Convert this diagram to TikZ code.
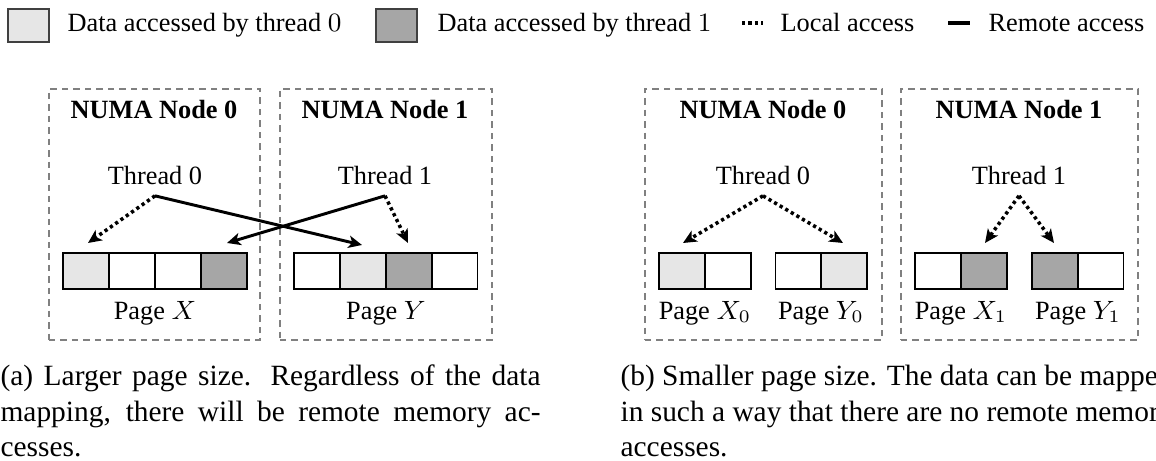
\documentclass[tikz,border=0pt]{standalone}
\usepackage{fontspec}
\setmainfont{Liberation Serif}
\usetikzlibrary{arrows.meta}

\definecolor{litegray}{RGB}{230,230,230}
\definecolor{darkfill}{RGB}{166,166,166}
\definecolor{boxgray}{RGB}{128,128,128}

\begin{document}
\begin{tikzpicture}[
  x=0.34pt, y=-0.34pt,
  every node/.style={font=\fontsize{8.95}{10.7}\selectfont},
  cell/.style={draw, line width=0.5pt, minimum width=46*0.34pt, minimum height=36*0.34pt,
    inner sep=0pt, outer sep=0pt},
  lite/.style={fill=litegray},
  dark/.style={fill=darkfill},
  legbox/.style={draw=black!75, line width=0.5pt, minimum width=41*0.34pt,
    minimum height=33*0.34pt, inner sep=0pt},
  numabox/.style={draw=boxgray, line width=0.7pt, dash pattern=on 2.2pt off 1.7pt,
    minimum height=251*0.34pt, inner sep=0pt},
  title/.style={font=\fontsize{8.95}{10.7}\selectfont\bfseries, anchor=base},
  thread/.style={anchor=base, inner sep=3.4pt},
  lbl/.style={anchor=base, inner sep=0pt},
  legtxt/.style={anchor=base west, inner sep=0pt},
  caption/.style={anchor=base west, inner sep=0pt, font=\fontsize{10}{12}\selectfont},
  tip/.style={-{Stealth[length=4.6pt, width=4.2pt, inset=1.2pt]}},
  localacc/.style={tip, line width=1.2pt, dash pattern=on 1.1pt off 1.1pt},
  remoteacc/.style={tip, line width=1pt},
]
\useasboundingbox (0,0) rectangle (1156,461);
\clip (0,0) rectangle (1156,461);

% ---------- legend ----------
\node[legbox, lite] (lg0) at (28.5,25.5) {};
\node[legtxt] (lt0) at (67,32) {Data accessed by thread $0$};
\node[legbox, dark] (lg1) at (396.5,25.5) {};
\node[legtxt] (lt1) at (437,32) {Data accessed by thread $1$};
\coordinate (ls0) at (742,23);
\coordinate (ls1) at (763,23);
\draw[line width=1.2pt, dash pattern=on 1.1pt off 1.1pt] (ls0) -- (ls1);
\node[legtxt] (lt2) at (780,32) {Local access};
\coordinate (lr0) at (948,23);
\coordinate (lr1) at (970,23);
\draw[line width=1.4pt] (lr0) -- (lr1);
\node[legtxt] (lt3) at (988,32) {Remote access};

% ---------- (a) larger pages ----------
\node[numabox, minimum width=211*0.34pt] (na0) at (154.5,214.5) {};
\node[numabox, minimum width=212*0.34pt] (na1) at (386,214.5) {};
\node[title] (ha0) at (154,119) {NUMA Node 0};
\node[title] (ha1) at (385,119) {NUMA Node 1};
\node[thread] (ta0) at (155,185) {Thread 0};
\node[thread] (ta1) at (385,185) {Thread 1};

% page X
\node[cell, lite] (ax1) at (86,271) {};
\node[cell] (ax2) at (132,271) {};
\node[cell] (ax3) at (178,271) {};
\node[cell, dark] (ax4) at (224,271) {};
% page Y
\node[cell] (ay1) at (317,271) {};
\node[cell, lite] (ay2) at (363,271) {};
\node[cell, dark] (ay3) at (409,271) {};
\node[cell] (ay4) at (454.5,271) {};
\node[lbl] (pax) at (155,320) {Page $X$};
\node[lbl] (pay) at (386,320) {Page $Y$};

\coordinate (ea1) at (88,243);
\coordinate (ea2) at (362,245);
\coordinate (ea3) at (227,243);
\coordinate (ea4) at (408,243);
\draw[localacc] (ta0.south) -- (ea1);
\draw[remoteacc] (ta0.south) -- (ea2);
\draw[remoteacc] (ta1.south) -- (ea3);
\draw[localacc] (ta1.south) -- (ea4);

% ---------- (b) smaller pages ----------
\node[numabox, minimum width=237*0.34pt] (nb0) at (763.5,214.5) {};
\node[numabox, minimum width=237*0.34pt] (nb1) at (1019.5,214.5) {};
\node[title] (hb0) at (763,119) {NUMA Node 0};
\node[title] (hb1) at (1019,119) {NUMA Node 1};
\node[thread] (tb0) at (763,185) {Thread 0};
\node[thread] (tb1) at (1019,185) {Thread 1};

\node[cell, lite] (bx01) at (682,271) {};
\node[cell] (bx02) at (728,271) {};
\node[cell] (by01) at (798.5,271) {};
\node[cell, lite] (by02) at (844,271) {};
\node[cell] (bx11) at (938,271) {};
\node[cell, dark] (bx12) at (984,271) {};
\node[cell, dark] (by11) at (1055,271) {};
\node[cell] (by12) at (1100.5,271) {};
\node[lbl] (pbx0) at (705,320) {Page $X_0$};
\node[lbl] (pby0) at (821,320) {Page $Y_0$};
\node[lbl] (pbx1) at (961,320) {Page $X_1$};
\node[lbl] (pby1) at (1078,320) {Page $Y_1$};

\coordinate (eb1) at (683,243);
\coordinate (eb2) at (843,243);
\coordinate (eb3) at (985,243);
\coordinate (eb4) at (1054,243);
\draw[localacc] (tb0.south) -- (eb1);
\draw[localacc] (tb0.south) -- (eb2);
\draw[localacc] (tb1.south) -- (eb3);
\draw[localacc] (tb1.south) -- (eb4);

% ---------- captions ----------
\node[caption] (ca1) at (0,386) {\makebox[183.6pt][s]{(a) Larger page size. Regardless of the data}};
\node[caption] (ca2) at (0,421.5) {\makebox[183.6pt][s]{mapping, there will be remote memory ac-}};
\node[caption] (ca3) at (0,457) {cesses.};
\node[caption] (cb1) at (620,386) {(b) Smaller page size. The data can be mapped};
\node[caption] (cb2) at (620,421.5) {in such a way that there are no remote memory};
\node[caption] (cb3) at (620,457) {accesses.};
\end{tikzpicture}
\end{document}
